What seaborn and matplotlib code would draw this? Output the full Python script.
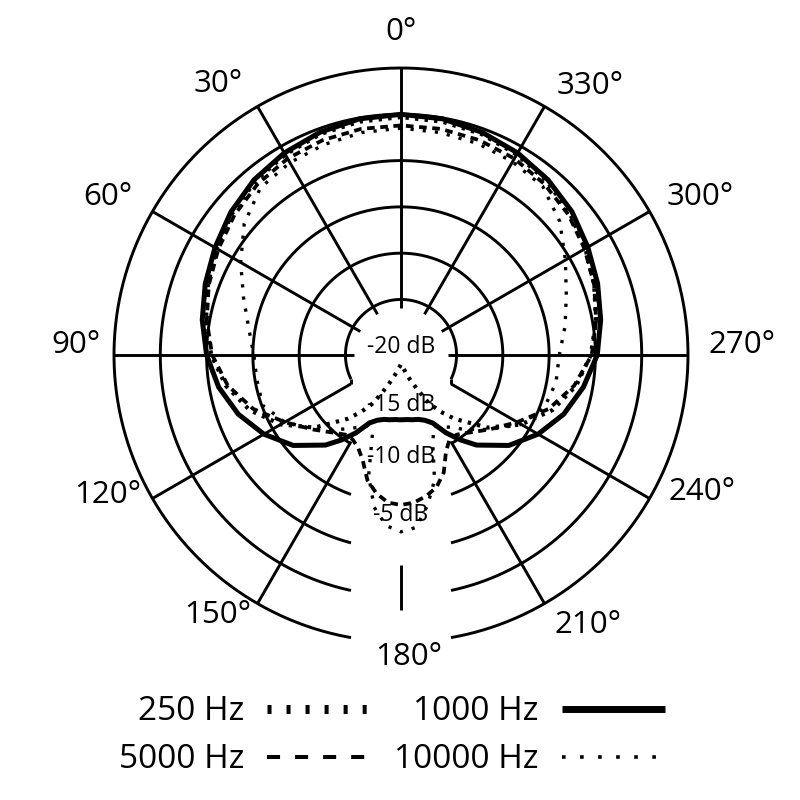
import numpy as np
import pandas as pd
import matplotlib.pyplot as plt
from matplotlib.lines import Line2D
import seaborn as sns

# polar response (dB), 0 deg on axis, counterclockwise
angles = [0, 10, 20, 30, 40, 50, 60, 70, 80, 90, 100, 110, 120, 130, 140,
          145, 150, 155, 160, 165, 170, 175, 180, 185, 190, 195, 200, 205, 210, 215,
          220, 230, 240, 250, 260, 270, 280, 290, 300, 310, 320, 330, 340, 350, 360]

resp_250 = [-0.3, -0.4, -0.6, -1.0, -1.5, -2.2, -3.0, -3.8, -4.6, -5.5, -6.8, -8.6, -11.0, -13.8, -17.0,
            -18.5, -20.0, -22.0, -23.2, -24.0, -24.6, -24.8, -25.0, -24.8, -24.6, -24.0, -23.2, -22.0, -20.0, -18.5,
            -17.0, -13.8, -11.0, -8.6, -6.8, -5.5, -4.6, -3.8, -3.0, -2.2, -1.5, -1.0, -0.6, -0.4, -0.3]

resp_1000 = [0.0, -0.1, -0.4, -0.8, -1.3, -2.0, -2.8, -3.5, -4.2, -5.0, -6.0, -7.3, -8.9, -10.8, -13.3,
             -14.8, -16.3, -17.9, -18.5, -18.8, -18.9, -19.0, -19.0, -19.0, -18.9, -18.8, -18.5, -17.9, -16.3, -14.8,
             -13.3, -10.8, -8.9, -7.3, -6.0, -4.8, -4.1, -3.4, -2.7, -1.9, -1.3, -0.8, -0.4, -0.1, 0.0]

resp_5000 = [-1.2, -1.2, -1.3, -1.5, -1.9, -2.5, -3.2, -3.9, -4.7, -5.6, -7.0, -9.0, -11.5, -13.5, -15.0,
             -15.5, -15.5, -15.0, -13.9, -12.0, -10.8, -10.0, -9.8, -10.0, -10.5, -11.2, -12.5, -14.5, -15.5, -15.5,
             -15.0, -13.5, -11.5, -9.0, -7.0, -5.4, -4.6, -3.8, -3.1, -2.4, -1.9, -1.5, -1.3, -1.2, -1.2]

resp_10000 = [-1.5, -1.6, -1.8, -2.0, -2.4, -3.9, -6.0, -7.9, -9.3, -10.1, -10.2, -10.1, -11.5, -13.6, -15.5,
              -16.3, -17.0, -17.5, -17.0, -12.5, -9.3, -7.5, -6.9, -7.3, -9.5, -12.0, -16.0, -17.5, -17.0, -16.5,
              -15.5, -13.5, -11.0, -9.5, -9.0, -8.9, -8.0, -7.0, -5.5, -3.6, -2.2, -1.9, -1.7, -1.6, -1.5]

ring_db = [-20, -15, -10, -5, 0, 5]
spoke_angles = [0, 30, 60, 90, 120, 150, 210, 240, 270, 300, 330]
angle_labels = ['0°', '30°', '60°', '90°', '120°', '150°', '180°', '210°', '240°', '270°', '300°', '330°']
db_labels = ['-20 dB', '-15 dB', '-10 dB', '-5 dB']

df = pd.DataFrame({'theta': np.deg2rad(angles), '250 Hz': resp_250, '1000 Hz': resp_1000,
                   '5000 Hz': resp_5000, '10000 Hz': resp_10000})

R_MIN, R_MAX = -26, 5
PX = 287 / (R_MAX - R_MIN)   # pixels per dB
CH = 50                       # half width of the gap under the centre, px


def px2db(p):
    return p / PX + R_MIN


sns.set_style('white')
plt.rcParams['font.family'] = ['Open Sans', 'DejaVu Sans']
plt.rcParams['text.color'] = 'black'
plt.rcParams['lines.scale_dashes'] = False

fig = plt.figure(figsize=(8, 8), dpi=100)
ax = fig.add_axes([0.1425, 0.1975, 0.7175, 0.7175], projection='polar')
ax.set_theta_zero_location('N')
ax.set_theta_direction(1)
ax.set_ylim(R_MIN, R_MAX)
ax.axis('off')

grid_kw = dict(color='black', lw=2.1, clip_on=False, solid_capstyle='butt')

# rings, open at the bottom
for d in ring_db:
    R = (d - R_MIN) * PX
    half = np.pi - np.arcsin(CH / R)
    t = np.linspace(-half, half, 400)
    ax.plot(t, np.full_like(t, d), **grid_kw)

# spokes
for a in spoke_angles:
    start = 47
    off = abs(a - 180)
    if off < 90:
        start = max(start, CH / np.sin(np.deg2rad(off)))
    ax.plot([np.deg2rad(a)] * 2, [px2db(start), R_MAX], **grid_kw)

# little steps where the inner ring meets the 120/240 spokes
R_in = (ring_db[0] - R_MIN) * PX
t_end = np.pi - np.arcsin(CH / R_in)
r_sp = px2db(CH / np.sin(np.deg2rad(60)))
for s in (1, -1):
    ax.plot([s * t_end, s * np.deg2rad(120)], [ring_db[0], r_sp], **grid_kw)

# short mark at 180
ax.plot([np.pi, np.pi], [px2db(210), px2db(255)], **grid_kw)

# response curves
sns.lineplot(data=df, x='theta', y='10000 Hz', ax=ax, sort=False, estimator=None, color='black',
             linewidth=2.4, linestyle=(0, (2.3, 6.5)), dash_capstyle='butt', clip_on=False)
sns.lineplot(data=df, x='theta', y='5000 Hz', ax=ax, sort=False, estimator=None, color='black',
             linewidth=2.7, linestyle=(0, (5.5, 4.0)), dash_capstyle='butt', clip_on=False)
sns.lineplot(data=df, x='theta', y='250 Hz', ax=ax, sort=False, estimator=None, color='black',
             linewidth=3.0, linestyle=(0, (2.4, 4.5)), dash_capstyle='butt', clip_on=False)
sns.lineplot(data=df, x='theta', y='1000 Hz', ax=ax, sort=False, estimator=None, color='black',
             linewidth=3.6, linestyle='-', clip_on=False)
ax.set_xlabel('')
ax.set_ylabel('')

# angle labels
lab_theta = [0, 34, 61.7, 88.2, 115.5, 144.9, 181.5, 214.7, 245.5, 271.7, 297.9, 324.9]
lab_rpx = [323, 327, 333, 325, 325, 318, 302, 328, 331, 341, 338, 329]
for txt, th, rp in zip(angle_labels, lab_theta, lab_rpx):
    ax.text(np.deg2rad(th), px2db(rp), txt, ha='center', va='center', fontsize=22.5, clip_on=False)

# dB labels
db_theta = [0, np.pi, np.pi, np.pi]
db_rpx = [8, 50, 102, 160]
for txt, th, rp in zip(db_labels, db_theta, db_rpx):
    ax.text(th, px2db(rp), txt, ha='center', va='center', fontsize=16.5)

# legend
handles = [
    Line2D([], [], color='black', lw=6.5, linestyle=(0, (2.9, 10.8)), dash_capstyle='butt'),
    Line2D([], [], color='black', lw=2.9, linestyle=(0, (9.4, 10.8)), dash_capstyle='butt'),
    Line2D([], [], color='black', lw=5.0, linestyle='-', solid_capstyle='butt'),
    Line2D([], [], color='black', lw=2.6, linestyle=(0, (2.6, 10.4)), dash_capstyle='butt'),
]
labels = ['250 Hz', '5000 Hz', '1000 Hz', '10000 Hz']
fig.legend(handles, labels, ncol=2, markerfirst=False, frameon=False, loc='center',
           bbox_to_anchor=(0.49, 0.08), fontsize=24, handlelength=3.1,
           handletextpad=0.7, columnspacing=0.7, labelspacing=0.45)

fig.savefig('out.png', dpi=100)
